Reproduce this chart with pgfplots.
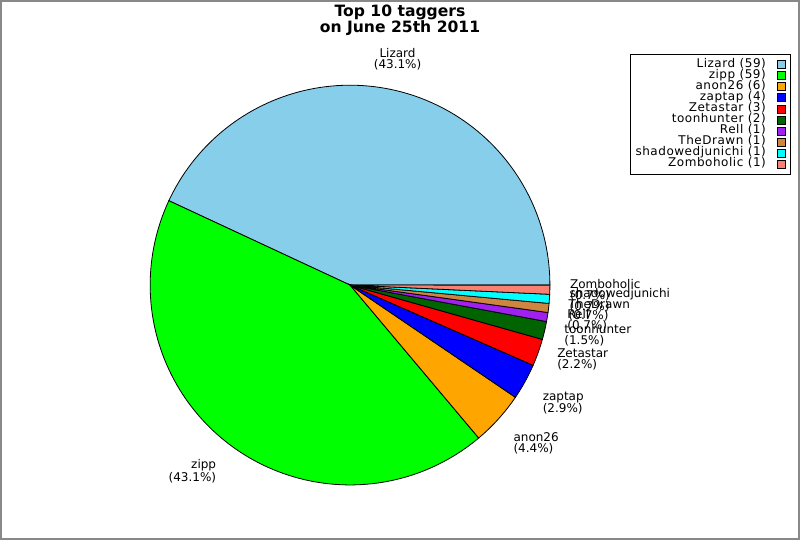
\documentclass[border=0pt]{standalone}
\usepackage{fontspec}
\setmainfont{DejaVu Sans}
\newfontfamily\legfont[LetterSpace=4.5]{DejaVu Sans}
\usepackage{pgfplots}
\usepackage{pgfplotstable}
\pgfplotsset{compat=1.18}
\definecolor{cA}{RGB}{135,206,235}
\definecolor{cB}{RGB}{0,255,0}
\definecolor{cC}{RGB}{255,165,0}
\definecolor{cD}{RGB}{0,0,255}
\definecolor{cE}{RGB}{255,0,0}
\definecolor{cF}{RGB}{0,100,0}
\definecolor{cG}{RGB}{160,32,240}
\definecolor{cH}{RGB}{205,133,63}
\definecolor{cI}{RGB}{0,255,255}
\definecolor{cJ}{RGB}{250,128,114}
\definecolor{frame}{RGB}{136,136,136}
\pgfplotstableread{
name count col
Lizard 59 cA
zipp 59 cB
anon26 6 cC
zaptap 4 cD
Zetastar 3 cE
toonhunter 2 cF
Rell 1 cG
TheDrawn 1 cH
shadowedjunichi 1 cI
Zomboholic 1 cJ
}\datatable
\xdef\total{0}
\pgfplotstableforeachcolumnelement{count}\of\datatable\as\c{%
  \pgfmathsetmacro\tmpsum{\total+\c}\xdef\total{\tmpsum}}
\begin{document}
\begin{tikzpicture}
\begin{axis}[
  scale only axis, width=600pt, height=405pt,
  xmin=0, xmax=800, ymin=0, ymax=540,
  hide axis, clip=false,
  legend plot pos=right,
  legend cell align=right,
  legend image code/.code={\draw[#1,draw=black,line width=0.4pt] (0pt,-3pt) rectangle (6pt,3pt);},
  legend style={at={(0.98875,0.9)}, anchor=north east, draw=black, line width=0.6pt,
    font=\legfont\fontsize{9}{10}\selectfont, inner xsep=4pt, inner ysep=3.3pt,
    column sep=8pt, row sep=0pt,
    nodes={inner sep=0pt, text height=6.3pt, text depth=2pt}},
]
\xdef\aStart{0}
\pgfplotsinvokeforeach{0,...,9}{%
  \pgfplotstablegetelem{#1}{count}\of\datatable\xdef\cnt{\pgfplotsretval}%
  \pgfplotstablegetelem{#1}{name}\of\datatable\xdef\nm{\pgfplotsretval}%
  \pgfplotstablegetelem{#1}{col}\of\datatable\xdef\cl{\pgfplotsretval}%
  \pgfmathsetmacro\frac{\cnt/\total}%
  \pgfmathsetmacro\aEnd{\aStart+360*\frac}%
  \pgfmathsetmacro\aMid{(\aStart+\aEnd)/2}%
  \pgfmathsetmacro\lx{350+220*cos(\aMid)}%
  \pgfmathsetmacro\ly{255+220*sin(\aMid)}%
  \pgfmathtruncatemacro\oct{mod(floor((\aMid+22.5)/45),8)}%
  \pgfmathtruncatemacro\pp{round(1000*\frac)}%
  \pgfmathtruncatemacro\pA{\pp/10}%
  \pgfmathtruncatemacro\pB{\pp-10*\pA}%
  \edef\tmp{\noexpand\addplot[fill=\cl, draw=black, line width=0.6pt, domain=\aStart:\aEnd, samples=100, variable=\noexpand\t]
     ({350+200*cos(\noexpand\t)},{255+200*sin(\noexpand\t)}) -- (axis cs:350,255) -- cycle;}%
  \tmp
  \addlegendentryexpanded{\nm\space(\cnt)}%
  \edef\tmp{\noexpand\node[anchor=\ifcase\oct west\or south west\or south\or south east\or east\or north east\or north\or north west\fi,
     align=\ifcase\oct left\or left\or center\or right\or right\or right\or center\or left\fi,
     inner sep=0pt, font=\noexpand\fontsize{9}{8}\noexpand\selectfont]
     at (axis cs:\lx,\ly) {\nm\noexpand\\(\pA.\pB\noexpand\%)};}%
  \tmp
  \xdef\aStart{\aEnd}%
}
\node[anchor=north, inner sep=0pt, align=center, font=\bfseries\fontsize{11.7}{9.75}\selectfont]
  at (axis cs:400,536) {Top 10 taggers\\on June 25th 2011};
\draw[frame, line width=1.5pt] (axis cs:0.75,0.75) rectangle (axis cs:799.25,539.25);
\end{axis}
\end{tikzpicture}
\end{document}
